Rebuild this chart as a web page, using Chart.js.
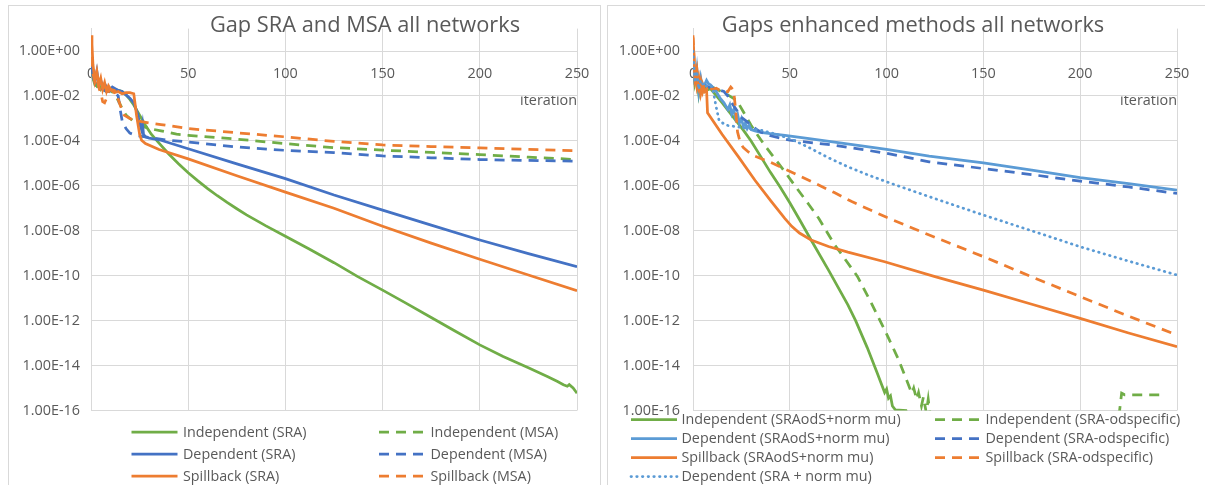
<!DOCTYPE html>
<html>
<head>
<meta charset="utf-8">
<script src="https://cdn.jsdelivr.net/npm/chart.js@4.4.1/dist/chart.umd.min.js"></script>
<style>
  html, body { margin: 0; padding: 0; background: #fff; }
  body { width: 1205px; height: 485px; position: relative; overflow: hidden; }
  .panel { position: absolute; top: 5px; height: 485px; border: 1px solid #D9D9D9; border-bottom: none; box-sizing: border-box; }
  canvas { position: absolute; top: 5px; }
</style>
</head>
<body>
<div class="panel" style="left:8px;width:593px"></div>
<div class="panel" style="left:607px;width:600px"></div>
<canvas id="leftChart" width="597" height="480" style="left:8px"></canvas>
<canvas id="rightChart" width="598" height="480" style="left:607px"></canvas>
<script>
// axis ticks
const xTickValues = [0, 50, 100, 150, 200, 250];
const yTickValues = [1e0, 1e-2, 1e-4, 1e-6, 1e-8, 1e-10, 1e-12, 1e-14, 1e-16];
const yTickLabels = ['1.00E+00', '1.00E-02', '1.00E-04', '1.00E-06', '1.00E-08', '1.00E-10', '1.00E-12', '1.00E-14', '1.00E-16'];

// series: [iteration, log10(gap)]
// left chart - Gap SRA and MSA all networks
const indepSRA = [[0,-0.5],[1,-1.2],[2,-1.4],[3,-1.55],[4,-1.45],[5,-1.7],[6,-1.6],[7,-1.75],[8,-1.7],[10,-1.65],[12,-1.7],[14,-1.75],[16,-1.8],[18,-1.95],[20,-2.15],[22,-2.4],[25,-2.85],[28,-3.3],[31,-3.7],[35,-4.1],[40,-4.58],[45,-5.02],[50,-5.42],[55,-5.78],[60,-6.12],[65,-6.44],[70,-6.74],[75,-7.02],[80,-7.29],[90,-7.78],[100,-8.24],[112,-8.8],[125,-9.42],[137,-10.03],[150,-10.64],[162,-11.22],[175,-11.86],[187,-12.45],[200,-13.08],[212,-13.6],[225,-14.1],[235,-14.5],[240,-14.71],[243,-14.85],[245,-14.92],[246,-14.85],[248,-15.0],[250,-15.23]];
const indepMSA = [[0,-0.5],[1,-1.2],[2,-1.5],[4,-1.6],[6,-1.7],[8,-1.8],[10,-1.75],[12,-1.9],[14,-2.2],[16,-2.55],[18,-2.85],[20,-3.0],[25,-3.3],[30,-3.45],[36,-3.55],[44,-3.7],[50,-3.75],[75,-3.92],[100,-4.12],[125,-4.3],[150,-4.41],[175,-4.51],[200,-4.61],[225,-4.72],[250,-4.83]];
const depSRA = [[0,-0.3],[1,-1.1],[2,-1.35],[3,-0.9],[4,-1.5],[5,-1.3],[6,-1.55],[7,-1.45],[8,-1.6],[10,-1.7],[11,-1.6],[12,-1.65],[14,-1.75],[16,-1.8],[18,-1.95],[20,-2.1],[22,-2.3],[24,-2.8],[25,-3.2],[26,-3.5],[26.5,-3.25],[27,-3.7],[28,-3.82],[30,-3.88],[36,-3.97],[50,-4.35],[75,-5.02],[100,-5.68],[125,-6.41],[150,-7.08],[175,-7.75],[200,-8.41],[225,-9.02],[250,-9.6]];
const depMSA = [[0,-0.3],[1,-1.1],[2,-1.4],[4,-1.6],[6,-1.7],[8,-1.8],[10,-1.8],[12,-1.85],[14,-2.0],[15,-2.6],[16,-3.1],[18,-3.45],[20,-3.65],[23,-3.75],[30,-3.85],[40,-3.97],[50,-4.05],[75,-4.27],[100,-4.42],[125,-4.52],[150,-4.67],[175,-4.75],[200,-4.83],[225,-4.87],[250,-4.9]];
const spillSRA = [[0,0.7],[0.5,0.3],[1,-0.6],[2,-1.3],[3,-0.9],[4,-1.5],[5,-1.2],[6,-1.7],[7,-1.4],[8,-1.8],[9,-1.55],[10,-1.7],[12,-1.85],[14,-1.8],[16,-1.9],[18,-1.85],[20,-1.85],[22,-1.9],[23.5,-2.9],[25,-3.7],[26,-3.97],[28,-4.12],[35,-4.38],[50,-4.8],[75,-5.55],[100,-6.28],[125,-7.0],[150,-7.8],[175,-8.55],[200,-9.27],[225,-9.97],[250,-10.67]];
const spillMSA = [[0,0.5],[1,-1.0],[2,-1.4],[3,-1.2],[4,-1.6],[5,-1.85],[6,-2.25],[7,-2.3],[8,-2.1],[9,-1.8],[10,-1.7],[12,-1.75],[13,-1.9],[15,-2.4],[17,-2.85],[20,-3.0],[22,-3.08],[30,-3.2],[36,-3.27],[50,-3.45],[74,-3.63],[100,-3.82],[125,-4.02],[150,-4.18],[175,-4.25],[200,-4.31],[225,-4.38],[250,-4.44]];

// right chart - Gaps enhanced methods all networks
const indepOdsNorm = [[0,-0.3],[1,-1.3],[2,-1.0],[3,-1.9],[4,-1.4],[5,-1.8],[6,-1.6],[7,-1.75],[9,-1.67],[15,-2.3],[20,-2.85],[26,-3.52],[30,-4.0],[35,-4.7],[40,-5.4],[45,-6.05],[50,-6.75],[55,-7.5],[61,-8.41],[70,-9.75],[80,-11.3],[84,-12.0],[90,-13.2],[95,-14.3],[99,-15.2],[100,-15.05],[101,-15.45],[102,-15.35],[103,-15.8],[104.5,-15.97],[110,-16.0],[111,-16.3]];
const indepOdSpec = [[0,-0.3],[1,-1.4],[2,-1.0],[3,-1.8],[5,-1.6],[8,-1.7],[10,-1.6],[15,-1.82],[18,-1.95],[22.6,-2.2],[26,-2.7],[30,-3.3],[33,-3.7],[37,-4.19],[47.5,-5.38],[52.7,-6.0],[60,-6.85],[65,-7.45],[73,-8.6],[85,-10.04],[92,-11.2],[99,-12.41],[106,-13.7],[113,-15.23],[114,-15.0],[115.5,-15.5],[116.5,-15.2],[118,-15.8],[119,-15.4],[120.5,-16.1],[121.5,-15.5],[123,-16.5],[170,null],[219,-17],[221.4,-15.23],[223,-15.3],[241,-15.3]];
const depOdsNorm = [[0,0.0],[1,-1.5],[2,-0.8],[3,-1.8],[4,-1.2],[5,-1.7],[6,-1.5],[7,-1.3],[8,-1.45],[9,-1.5],[10,-1.6],[12,-1.8],[14,-2.1],[16,-2.3],[18,-2.6],[19,-2.4],[20,-2.8],[21,-2.6],[22,-3.0],[23,-2.8],[24,-3.2],[25,-3.0],[26,-3.35],[27,-3.2],[28,-3.45],[29,-3.3],[30,-3.5],[32,-3.55],[35,-3.62],[40,-3.68],[47.5,-3.75],[60,-3.9],[75,-4.08],[100,-4.38],[122,-4.68],[150,-4.98],[175,-5.3],[200,-5.63],[225,-5.9],[250,-6.19]];
const depOdSpec = [[0,0.2],[1,-1.3],[2,-0.9],[3,-1.5],[4,-1.3],[6,-1.5],[8,-1.6],[10,-1.65],[12,-1.7],[14,-1.75],[16,-1.8],[18,-2.0],[20,-2.3],[22.6,-2.64],[25,-2.95],[28,-3.15],[31,-3.37],[33,-3.5],[35,-3.6],[40,-3.77],[50,-3.97],[73,-4.19],[100,-4.55],[122,-4.93],[150,-5.23],[175,-5.5],[200,-5.79],[225,-6.05],[250,-6.34]];
const spillOdsNorm = [[0,0.6],[1,-1.0],[2,-1.6],[3,-1.2],[4,-1.9],[5,-1.5],[6,-1.8],[7,-1.7],[7.5,-2.75],[15,-3.7],[23.4,-4.7],[32,-5.75],[40,-6.65],[47.4,-7.45],[51,-7.8],[55,-8.1],[61,-8.41],[70,-8.7],[80,-8.95],[99,-9.38],[125,-10.04],[150,-10.64],[175,-11.27],[200,-11.9],[225,-12.55],[250,-13.16]];
const spillOdSpec = [[0,0.7],[1,-1.2],[2,-0.8],[3,-1.6],[4,-1.3],[5,-1.8],[6,-1.5],[8,-1.6],[10,-1.7],[12,-1.65],[14,-1.75],[16,-1.8],[18,-1.8],[19.5,-1.6],[21,-1.75],[22,-2.6],[23,-3.6],[24.5,-4.1],[26,-4.3],[28.6,-4.49],[32,-4.68],[40,-4.95],[47,-5.23],[61,-5.8],[73,-6.3],[82,-6.7],[100,-7.4],[122,-8.19],[150,-9.15],[175,-10.05],[200,-10.93],[225,-11.8],[250,-12.64]];
const depSraNorm = [[0,0.0],[1,-1.4],[2,-0.9],[3,-1.7],[4,-1.3],[6,-1.6],[8,-1.5],[10,-1.6],[12,-2.5],[13.5,-3.1],[17,-3.3],[25,-3.4],[35,-3.52],[45,-3.75],[52,-3.97],[60,-4.3],[70,-4.75],[80,-5.15],[90,-5.5],[100,-5.82],[125,-6.57],[150,-7.3],[175,-8.0],[200,-8.71],[225,-9.35],[250,-9.97]];

const GREEN = '#70AD47', BLUE = '#4472C4', ORANGE = '#ED7D31', LIGHTBLUE = '#5B9BD5';
const SOLID = [], DASH = [10, 7], DOT = [0.5, 5.2];
const TEXT = '#595959', GRID = '#D9D9D9';
const FONT = '"Open Sans", "Noto Sans", sans-serif';

function series(label, points, color, dash, order) {
  return {
    label: label,
    order: order,
    data: points.map(p => ({ x: p[0], y: p[1] === null ? null : Math.pow(10, p[1]) })),
    borderColor: color,
    backgroundColor: color,
    borderWidth: 2.75,
    borderDash: dash,
    borderCapStyle: dash === DOT ? 'round' : 'butt',
    pointRadius: 0,
    tension: 0,
    spanGaps: false
  };
}

// title and two-column legend drawn on the canvas
const panelText = {
  id: 'panelText',
  afterDraw(chart, args, opts) {
    const ctx = chart.ctx;
    ctx.save();
    ctx.fillStyle = TEXT;
    ctx.font = opts.titleSize + 'px ' + FONT;
    ctx.textAlign = 'center';
    ctx.textBaseline = 'alphabetic';
    ctx.fillText(opts.title, opts.titleX, opts.titleY);
    ctx.font = opts.legendSize + 'px ' + FONT;
    ctx.textAlign = 'left';
    ctx.textBaseline = 'middle';
    chart.data.datasets.forEach((ds, i) => {
      const x = opts.cols[i % 2], y = opts.rows[Math.floor(i / 2)];
      ctx.strokeStyle = ds.borderColor;
      ctx.lineWidth = ds.borderWidth;
      ctx.lineCap = ds.borderCapStyle;
      ctx.setLineDash(ds.borderDash);
      ctx.beginPath();
      ctx.moveTo(x, y);
      ctx.lineTo(x + opts.sample, y);
      ctx.stroke();
      ctx.setLineDash([]);
      ctx.fillText(ds.label, x + opts.sample + opts.gap, y + 0.5);
    });
    ctx.restore();
  }
};

function makeOptions(yWidth, yPad, padRight, text) {
  const tickFont = { family: FONT, size: 14.4 };
  return {
    responsive: false,
    animation: false,
    events: [],
    layout: { padding: { top: 23.6, right: padRight, bottom: 74.5, left: 0 } },
    scales: {
      x: {
        type: 'linear',
        min: 0,
        max: 250,
        position: { y: 1 },
        afterBuildTicks: s => { s.ticks = xTickValues.map(v => ({ value: v })); },
        ticks: { color: TEXT, font: tickFont, padding: 14.5, maxRotation: 0 },
        grid: { color: GRID, lineWidth: 1, drawTicks: false },
        border: { color: GRID, width: 1 },
        title: { display: true, text: 'iteration', align: 'end', color: TEXT, font: tickFont, padding: { top: -5, bottom: 0 } }
      },
      y: {
        type: 'logarithmic',
        min: 1e-16,
        max: 10,
        afterBuildTicks: s => { s.ticks = yTickValues.map(v => ({ value: v })); },
        afterFit: s => { s.width = yWidth; },
        ticks: { color: TEXT, font: tickFont, padding: yPad, callback: (v, i) => yTickLabels[i] },
        grid: { color: GRID, lineWidth: 1, drawTicks: false },
        border: { color: GRID, width: 1 }
      }
    },
    plugins: {
      legend: { display: false },
      tooltip: { enabled: false },
      panelText: text
    }
  };
}

new Chart(document.getElementById('leftChart'), {
  type: 'line',
  data: {
    datasets: [
      series('Independent (SRA)', indepSRA, GREEN, SOLID, 6),
      series('Independent (MSA)', indepMSA, GREEN, DASH, 5),
      series('Dependent (SRA)', depSRA, BLUE, SOLID, 4),
      series('Dependent (MSA)', depMSA, BLUE, DASH, 3),
      series('Spillback (SRA)', spillSRA, ORANGE, SOLID, 2),
      series('Spillback (MSA)', spillMSA, ORANGE, DASH, 1)
    ]
  },
  options: makeOptions(83, 11, 28, {
    title: 'Gap SRA and MSA all networks', titleX: 357, titleY: 26.5, titleSize: 21.8,
    legendSize: 14.3, cols: [123.5, 371], rows: [427, 449, 471], sample: 46, gap: 5.5
  }),
  plugins: [panelText]
});

new Chart(document.getElementById('rightChart'), {
  type: 'line',
  data: {
    datasets: [
      series('Independent (SRAodS+norm mu)', indepOdsNorm, GREEN, SOLID, 7),
      series('Independent (SRA-odspecific)', indepOdSpec, GREEN, DASH, 6),
      series('Dependent (SRAodS+norm mu)', depOdsNorm, LIGHTBLUE, SOLID, 5),
      series('Dependent (SRA-odspecific)', depOdSpec, BLUE, DASH, 4),
      series('Spillback (SRAodS+norm mu)', spillOdsNorm, ORANGE, SOLID, 3),
      series('Spillback (SRA-odspecific)', spillOdSpec, ORANGE, DASH, 2),
      series('Dependent (SRA + norm mu)', depSraNorm, LIGHTBLUE, DOT, 1)
    ]
  },
  options: makeOptions(86, 13, 28, {
    title: 'Gaps enhanced methods all networks', titleX: 306, titleY: 26.5, titleSize: 21.8,
    legendSize: 14.3, cols: [24, 328], rows: [414.5, 433.5, 452.5, 471.5], sample: 46, gap: 4.5
  }),
  plugins: [panelText]
});
</script>
</body>
</html>
